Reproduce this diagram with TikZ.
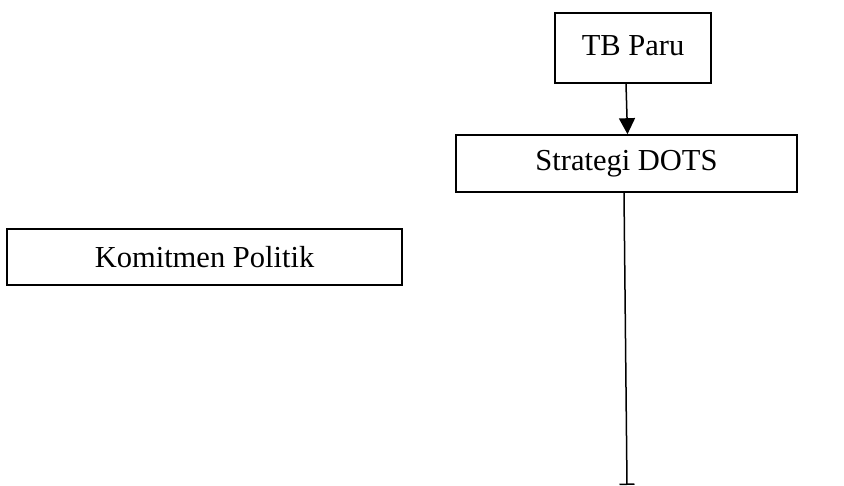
\documentclass[tikz,border=0pt]{standalone}
\usepackage{fontspec}
\setmainfont{Liberation Serif}
\usetikzlibrary{arrows.meta,calc}
\begin{document}
\begin{tikzpicture}[x=1pt,y=-1pt,
  box/.style={draw,line width=1.6pt,inner sep=0pt,font=\fontsize{30.5}{36}\selectfont},
  conn/.style={line width=1.5pt}]
\useasboundingbox (0,0) rectangle (844,486);
\node[box,minimum width=156pt,minimum height=70pt] (tb) at (633,48) {\raisebox{5pt}{TB Paru}};
\node[box,minimum width=341pt,minimum height=57pt] (dots) at (626.5,163.5) {Strategi DOTS};
\node[box,minimum width=395pt,minimum height=56pt] (kp) at (204.5,257) {Komitmen Politik};
\coordinate (end) at (627,485);
\draw[conn,-{Triangle[length=16pt,width=16pt]}] ($(tb.south)+(-7,0)$) -- ($(dots.north)+(1,0)$);
\draw[conn,-{Bar[width=15pt]}] ($(dots.south)+(-2.5,0)$) -- (end);
\end{tikzpicture}
\end{document}
